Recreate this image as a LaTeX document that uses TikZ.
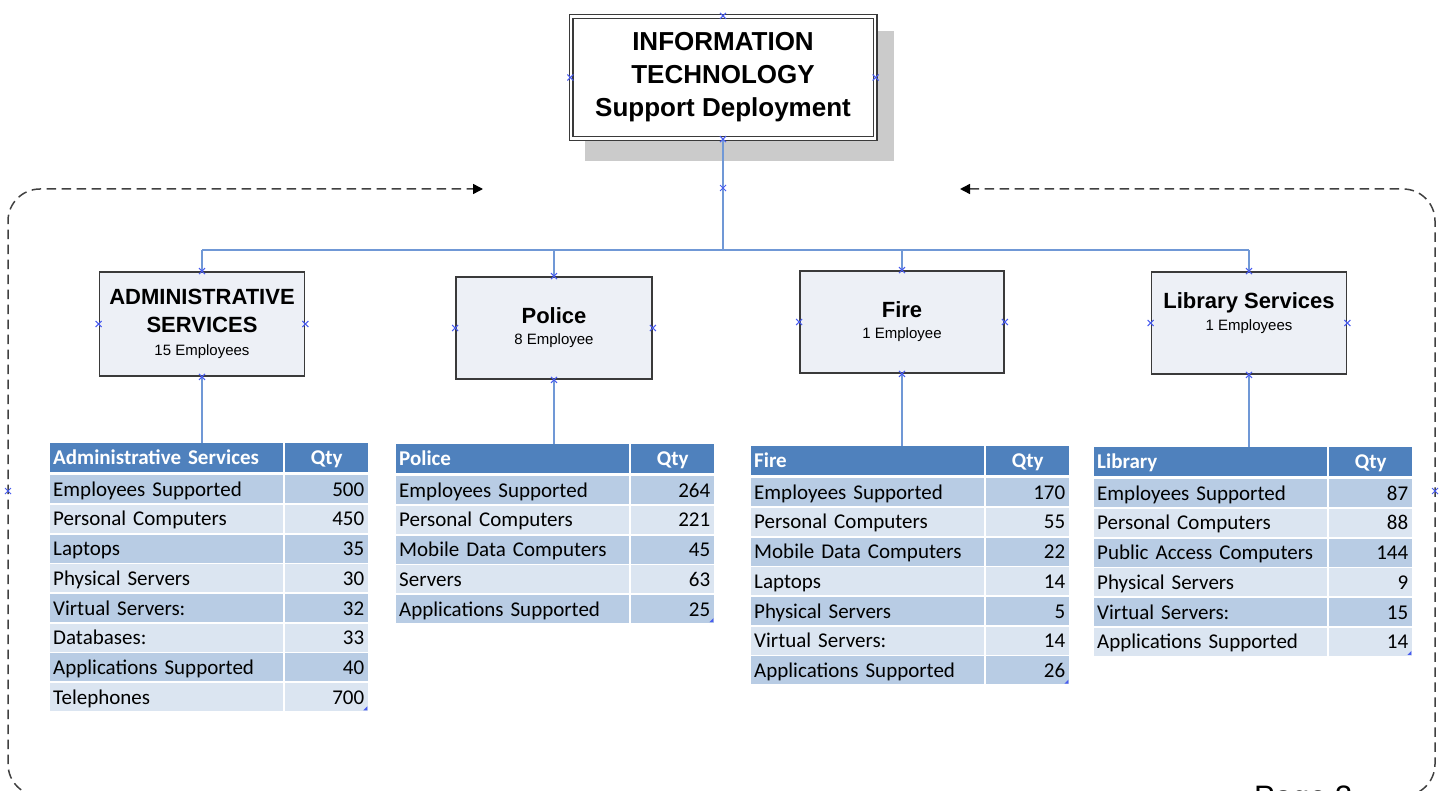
\documentclass[tikz,border=0pt]{standalone}
\usepackage{fontspec}
\setmainfont{Liberation Sans}
\newfontfamily\tabfont{Carlito}
\usetikzlibrary{arrows.meta,calc}

\definecolor{hdrblue}{HTML}{4F81BD}
\definecolor{rowdark}{HTML}{B8CCE4}
\definecolor{rowlight}{HTML}{DBE5F1}
\definecolor{boxfill}{HTML}{EDF0F6}
\definecolor{boxline}{HTML}{3A3A3A}
\definecolor{linkblue}{RGB}{112,152,214}
\definecolor{markblue}{RGB}{72,92,240}
\definecolor{shadowgray}{HTML}{CBCBCB}
\definecolor{loopgray}{HTML}{404040}

\tikzset{
  titlebox/.style={draw=boxline, line width=1.2pt, double=white, double distance=2.6pt,
    fill=white, minimum width=304pt, minimum height=122pt, align=center, inner sep=0,
    font=\bfseries\fontsize{26}{33}\selectfont},
  deptbox/.style={draw=boxline, line width=1.8pt, fill=boxfill, align=center, inner sep=0,
    font=\bfseries\fontsize{22}{28}\selectfont},
  hdcell/.style={fill=hdrblue, text=white, font=\tabfont\bfseries\fontsize{21}{24}\selectfont,
    anchor=north west, minimum height=29pt, inner sep=0, text height=17pt, text depth=3pt},
  tabcell/.style={font=\tabfont\fontsize{21}{24}\selectfont, anchor=north west,
    minimum height=28pt, inner sep=0, text height=17pt, text depth=3pt},
  link/.style={draw=linkblue, line width=2pt},
  cycleline/.style={draw=loopgray, line width=1.5pt, dash pattern=on 9.5pt off 5.5pt,
    rounded corners=32pt,
    {Triangle[length=10pt,width=10pt,color=black]}-{Triangle[length=10pt,width=10pt,color=black]}},
  xmk/.pic={\draw[markblue, line width=1pt] (-3pt,-3pt) -- (3pt,3pt)
    (-3pt,3pt) -- (3pt,-3pt);},
}
\newcommand\subline{\mdseries\fontsize{15}{17}\selectfont}

% #1 name, #2 left, #3 top, #4 heading, #5 number of rows, #6 label/value rows
\newcommand\datatable[6]{%
  \node[hdcell, minimum width=233pt, text width=227pt, align=left] (#1) at (#2,#3) {#4};
  \node[hdcell, minimum width=83pt, text width=75pt, align=center] (#1-q) at ({#2+235},{#3}) {Qty};
  \foreach \lab/\val [count=\i] in {#6} {
    \ifodd\i\relax\colorlet{rowfill}{rowdark}\else\colorlet{rowfill}{rowlight}\fi
    \pgfmathsetmacro\rowy{#3+32+(\i-1)*29.7}
    \node[tabcell, fill=rowfill, minimum width=233pt, text width=227pt, align=left]
      (#1-l\i) at ({#2},{\rowy}) {\lab};
    \node[tabcell, fill=rowfill, minimum width=83pt, text width=75pt, align=right]
      (#1-v\i) at ({#2+235},{\rowy}) {\val};
  }
  \fill[markblue] ([xshift=-1pt,yshift=1pt]#1-v#5.south east) -- +(-4pt,0) -- +(0,4pt) -- cycle;
}

\begin{document}
\begin{tikzpicture}[x={(1pt,0)}, y={(0,-1pt)}]
\useasboundingbox (0,0) rectangle (1445,791);

% surrounding dashed cycle
\coordinate (loopL) at (483,189);
\coordinate (loopR) at (960,189);
\draw[cycleline] (loopR) -- (1435,189) -- (1435,796) -- (8,796) -- (8,189) -- (loopL);
\pic at (8,491) {xmk};
\pic at (1435,491) {xmk};

% heading box with its shadow
\fill[shadowgray] (585,31) rectangle (894,161);
\node[titlebox] (top) at (723,77.5) {INFORMATION\\TECHNOLOGY\\Support Deployment};

% departments
\node[deptbox, minimum width=205pt, minimum height=104pt] (adm) at (202,324)
  {ADMINISTRATIVE\\SERVICES\\[-5pt]{\subline 15 Employees}};
\node[deptbox, minimum width=196pt, minimum height=102pt] (pol) at (554,328)
  {Police\\[-7pt]{\subline 8 Employee}};
\node[deptbox, minimum width=204pt, minimum height=102pt] (fir) at (902,322)
  {Fire\\[-7pt]{\subline 1 Employee}};
\node[deptbox, minimum width=195pt, minimum height=102pt] (lib) at (1249,323) {};
\node[align=center, inner sep=0, font=\bfseries\fontsize{22}{28}\selectfont] (lib-t)
  at ([yshift=10pt]lib.center) {Library Services\\[-6pt]{\subline 1 Employees}};

% tables
\datatable{admt}{50}{443}{Administrative Services}{8}{Employees Supported/500, Personal Computers/450,
  Laptops/35, Physical Servers/30, Virtual Servers:/32, Databases:/33, Applications Supported/40, Telephones/700}
\datatable{polt}{396}{444}{Police}{5}{Employees Supported/264, Personal Computers/221,
  Mobile Data Computers/45, Servers/63, Applications Supported/25}
\datatable{firt}{751}{446}{Fire}{7}{Employees Supported/170, Personal Computers/55,
  Mobile Data Computers/22, Laptops/14, Physical Servers/5, Virtual Servers:/14, Applications Supported/26}
\datatable{libt}{1094}{447}{Library}{6}{Employees Supported/87, Personal Computers/88,
  Public Access Computers/144, Physical Servers/9, Virtual Servers:/15, Applications Supported/14}

% connectors
\coordinate (bus) at (723,250);
\draw[link, line width=2.6pt] (top.south) -- (bus);
\draw[link] (bus -| adm.north) -- (bus -| lib.north);
\foreach \d in {adm,pol,fir,lib} {
  \draw[link] (bus -| \d.north) -- (\d.north);
  \draw[link] (\d.south) -- (\d.south |- \d t.north);
}

% connection points
\coordinate (trunkmid) at (723,188);
\pic at (trunkmid) {xmk};
\foreach \n in {top,adm,pol,fir,lib}
  \foreach \a in {north,south,east,west}
    \pic at (\n.\a) {xmk};

% page number, mostly below the sheet edge
\node[anchor=north west, inner sep=0, font=\fontsize{31}{36}\selectfont] (pg) at (1254,786) {Page 3};
\end{tikzpicture}
\end{document}
